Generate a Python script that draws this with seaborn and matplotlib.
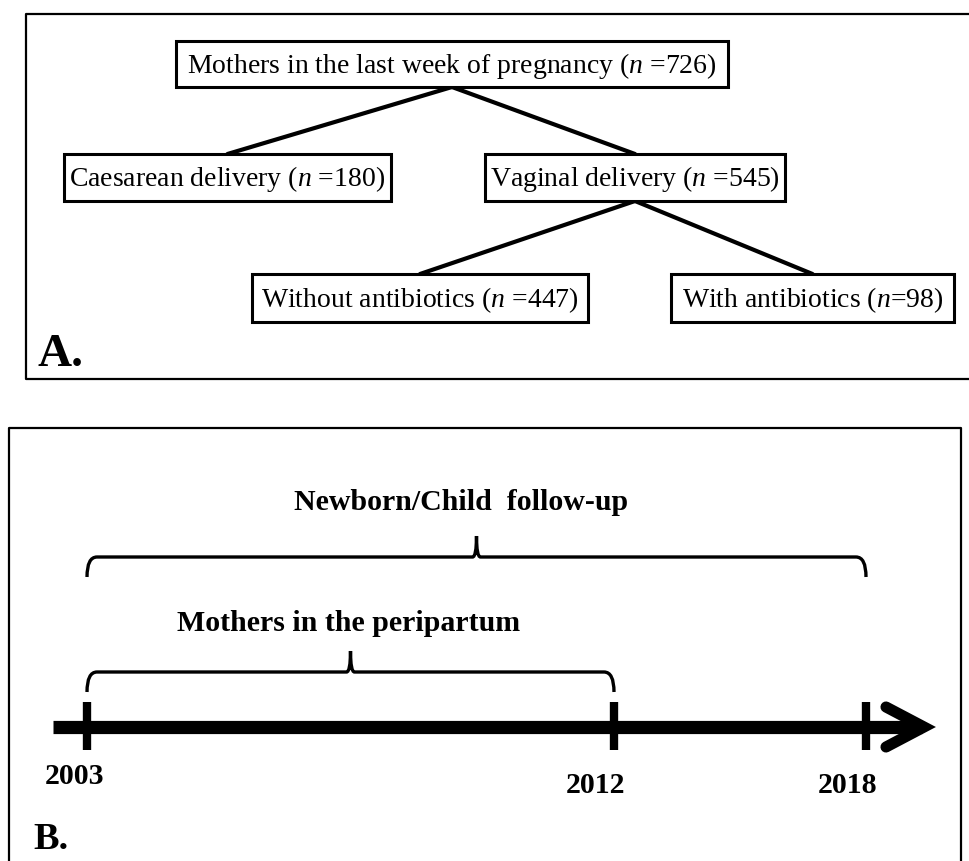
import numpy as np
import matplotlib
matplotlib.use("Agg")
import matplotlib.pyplot as plt
import seaborn as sns
from matplotlib.path import Path
from matplotlib.patches import PathPatch, Rectangle

# Panel A: tree of mothers
node_labels = ["Mothers in the last week of pregnancy", "Caesarean delivery",
               "Vaginal delivery", "Without antibiotics", "With antibiotics"]
node_n = [726, 180, 545, 447, 98]
node_sep = [" ", " ", " ", " ", ""]
node_left = [176, 64, 485, 252, 671]
node_right = [728, 391, 785, 588, 954]
node_top = [42, 155, 155, 275, 275]
node_bottom = [88, 202, 202, 323, 323]
edges = [(0, 1), (0, 2), (2, 3), (2, 4)]

# Panel B: timeline
years = [2003, 2012, 2018]
year_x = [87, 614, 866]
year_label_x = [75, 596, 848]
year_label_y = [777, 786, 786]
periods = ["Newborn/Child  follow-up", "Mothers in the peripartum"]
period_start = [2003, 2003]
period_end = [2018, 2012]
period_brace_y = [558, 673]
period_label_x = [461, 349]
period_label_y = [503, 624]

sns.set_theme(style="white")
plt.rcParams['font.family'] = ['Liberation Serif', 'DejaVu Serif']
plt.rcParams['text.color'] = 'black'
plt.rcParams['mathtext.fontset'] = 'custom'
plt.rcParams['mathtext.rm'] = 'Liberation Serif'
plt.rcParams['mathtext.it'] = 'Liberation Serif:italic'

fig = plt.figure(figsize=(9.69, 8.62), dpi=100)
ax = fig.add_axes([0, 0, 1, 1])
ax.set_xlim(0, 969)
ax.set_ylim(862, 0)
ax.axis('off')

# panel frames
ax.plot([969, 26, 26, 969], [15, 15, 380, 380], color='black', lw=1.6)
ax.plot([9, 9, 961, 961], [862, 429, 429, 862], color='black', lw=1.6)

# tree edges
for p, c in edges:
    px = (node_left[p] + node_right[p]) / 2
    cx = (node_left[c] + node_right[c]) / 2
    sns.lineplot(x=[px, cx], y=[node_bottom[p], node_top[c]], ax=ax,
                 color='black', lw=3, sort=False, estimator=None)

# tree boxes
for i, lab in enumerate(node_labels):
    ax.add_patch(Rectangle((node_left[i], node_top[i]),
                           node_right[i] - node_left[i], node_bottom[i] - node_top[i],
                           fc='white', ec='black', lw=2.2, zorder=3))
    ax.text((node_left[i] + node_right[i]) / 2, (node_top[i] + node_bottom[i]) / 2 + 1,
            f"{lab} ($n${node_sep[i]}={node_n[i]})", ha='center', va='center',
            fontsize=20, color='black', zorder=4)

ax.text(38, 366, "A.", fontsize=34, fontweight='bold', va='baseline', color='black')

# timeline axis
axis_y = 728
line = sns.lineplot(x=[53, 922], y=[axis_y, axis_y], ax=ax, color='black', lw=9.5,
                    sort=False, estimator=None)
line.lines[-1].set_solid_capstyle('butt')
ax.plot([886, 924, 886], [708, axis_y, 748], color='black', lw=8,
        solid_joinstyle='miter', solid_capstyle='round')
for x in year_x:
    ax.plot([x, x], [703, 751], color='black', lw=6, solid_capstyle='butt')
for yr, lx, ly in zip(years, year_label_x, year_label_y):
    ax.text(lx, ly, str(yr), ha='center', va='center', fontsize=21.5,
            fontweight='bold', color='black')


def brace(x0, x1, y, drop=20, rise=21, r=10, w=4):
    xm = (x0 + x1) / 2
    verts = [(x0, y + drop), (x0, y), (x0 + r, y), (xm - w, y), (xm, y), (xm, y - rise),
             (xm, y), (xm + w, y), (x1 - r, y), (x1, y), (x1, y + drop)]
    codes = [Path.MOVETO, Path.CURVE3, Path.CURVE3, Path.LINETO, Path.CURVE3, Path.CURVE3,
             Path.CURVE3, Path.CURVE3, Path.LINETO, Path.CURVE3, Path.CURVE3]
    ax.add_patch(PathPatch(Path(verts, codes), fc='none', ec='black', lw=2.4))


for lab, s, e, by, lx, ly in zip(periods, period_start, period_end, period_brace_y,
                                 period_label_x, period_label_y):
    brace(year_x[years.index(s)], year_x[years.index(e)], by)
    ax.text(lx, ly, lab, ha='center', va='center', fontsize=21.5,
            fontweight='bold', color='black')

ax.text(33, 840, "B.", fontsize=27.5, fontweight='bold', va='center', color='black')

fig.savefig("out.png", dpi=100)
